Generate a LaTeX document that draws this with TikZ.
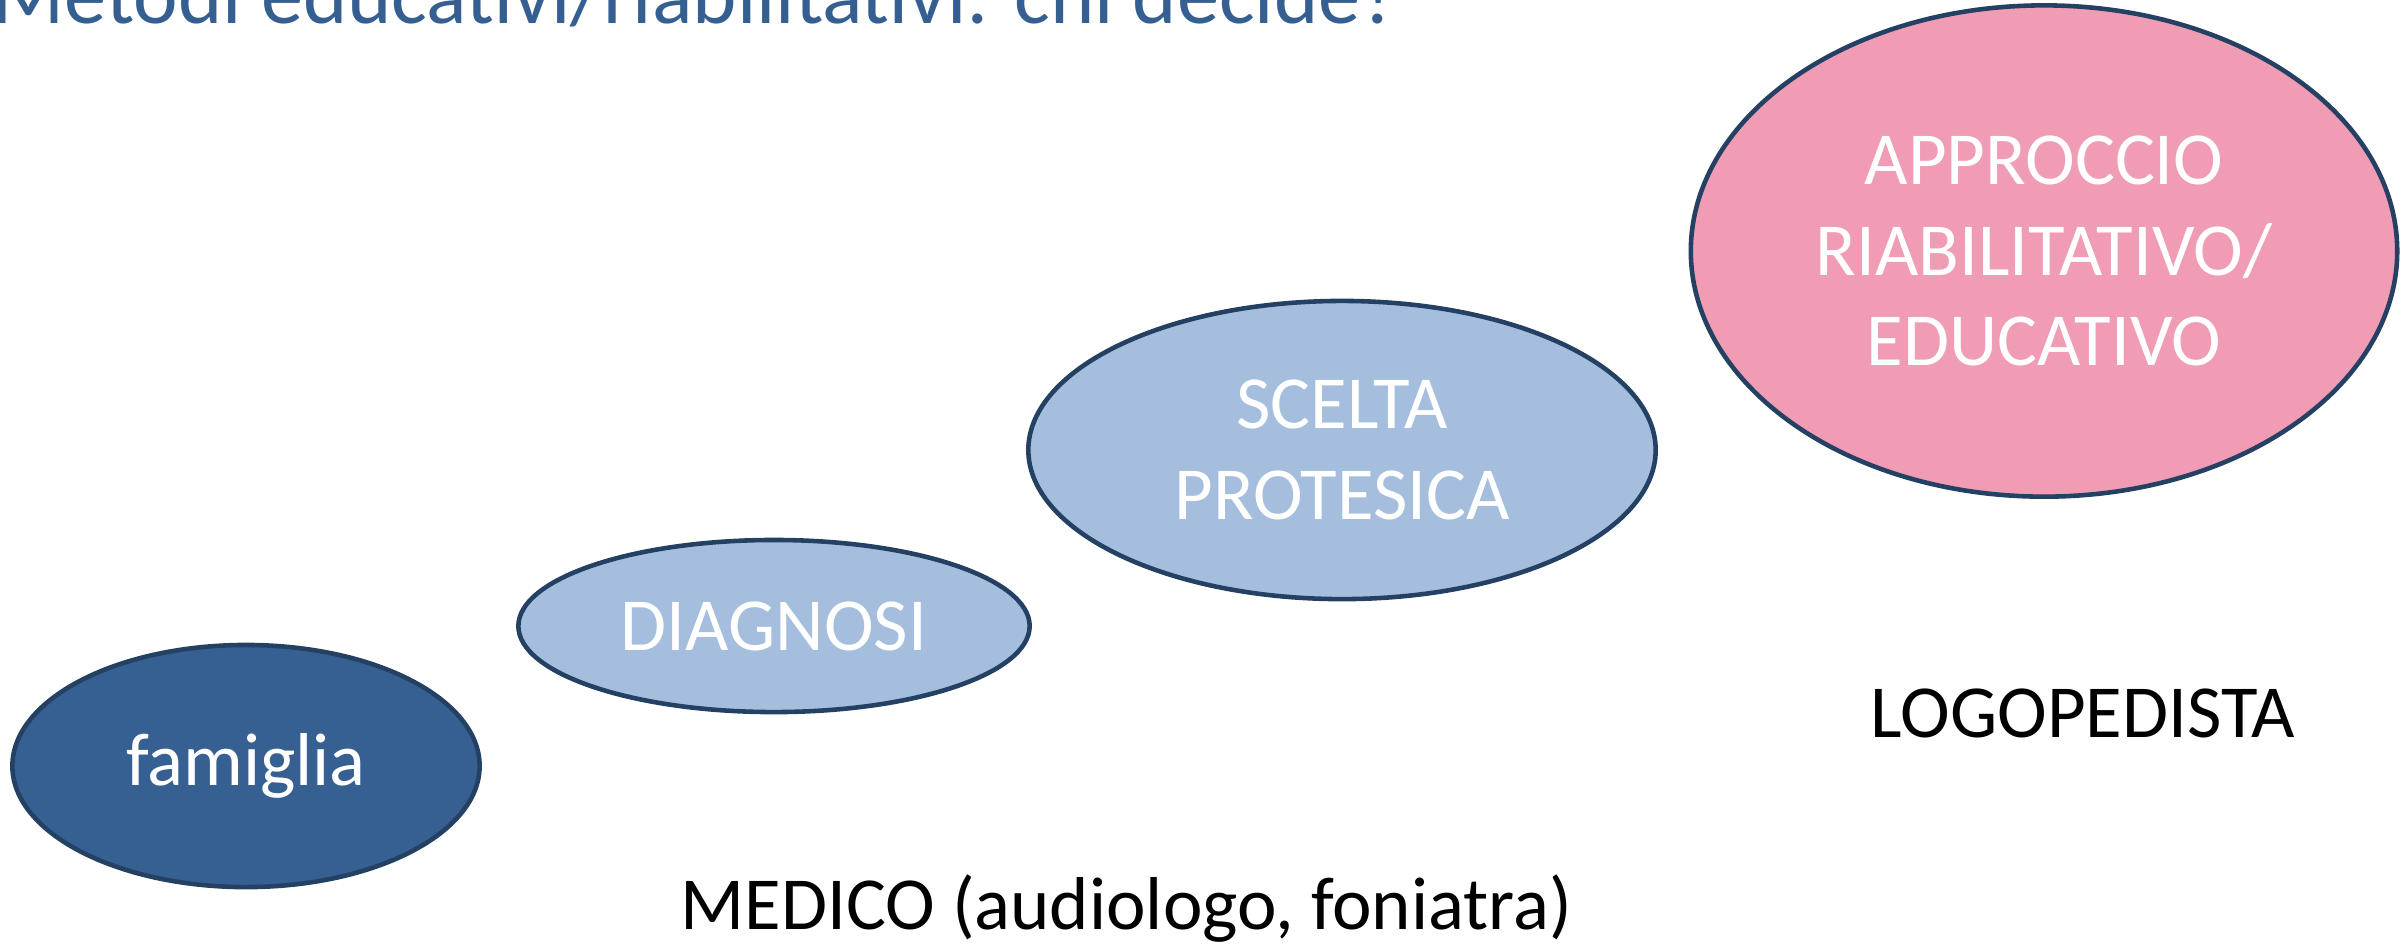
\documentclass[tikz,border=0pt]{standalone}
\usepackage{fontspec}
\setmainfont{Carlito}
\usepackage{tikz}
\usetikzlibrary{shapes.geometric}

\definecolor{titleblue}{RGB}{54,95,145}
\definecolor{edgeblue}{RGB}{36,64,98}
\definecolor{darkfill}{RGB}{55,96,146}
\definecolor{lightfill}{RGB}{165,190,222}
\definecolor{pinkfill}{RGB}{239,156,180}

\begin{document}
\begin{tikzpicture}[x=0.01cm,y=-0.01cm,
    bubble/.style={draw=edgeblue,line width=1.3pt,shape=ellipse,inner sep=0pt,text=white,align=center,font=\fontsize{21.3}{25.8}\selectfont},
    role/.style={inner sep=0pt,anchor=base west,font=\fontsize{21.3}{25.8}\selectfont}]
    \useasboundingbox (0,0) rectangle (2407,947);
    \clip (0,0) rectangle (2407,947);

    \node (title)[anchor=base west,inner sep=0pt,text=titleblue,font=\fontsize{24}{29}\selectfont] at (-8,23) {Metodi educativi/riabilitativi: chi decide?};

    \node (famiglia)[bubble,fill=darkfill,minimum width=4.67cm,minimum height=2.42cm] at (246,766) {famiglia};
    \node (diagnosi)[bubble,fill=lightfill,minimum width=5.11cm,minimum height=1.72cm] at (774,626) {DIAGNOSI};
    \node (scelta)[bubble,fill=lightfill,minimum width=6.27cm,minimum height=2.98cm] at (1342,450) {SCELTA\\PROTESICA};
    \node (approccio)[bubble,fill=pinkfill,minimum width=7.06cm,minimum height=4.91cm] at (2044,251) {APPROCCIO\\RIABILITATIVO/\\EDUCATIVO};

    \node (medico)[role] at (680,929) {MEDICO (audiologo, foniatra)};
    \node (logopedista)[role] at (1870,737) {LOGOPEDISTA};
\end{tikzpicture}
\end{document}
